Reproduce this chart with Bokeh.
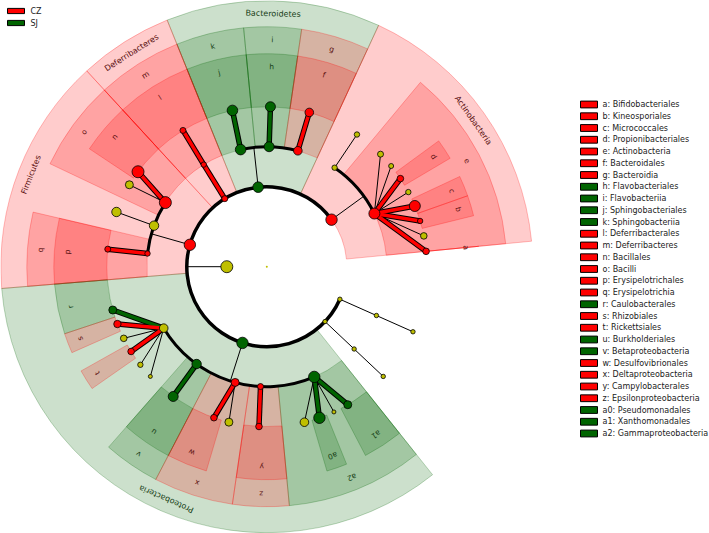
import math
from bokeh.plotting import figure
from bokeh.models import Range1d
from bokeh.core.properties import value
from bokeh.embed import file_html
from bokeh.resources import INLINE

W, H = 709, 533

# ---------------- data ----------------
group_names = ["CZ", "SJ"]
group_colors = ["#FF0000", "#006400"]
nonsig_color = "#BFBF00"
label_colors = ["#5a1010", "#143c14"]

legend_keys = ["a", "b", "c", "d", "e", "f", "g", "h", "i", "j", "k", "l", "m", "n", "o",
               "p", "q", "r", "s", "t", "u", "v", "w", "x", "y", "z", "a0", "a1", "a2"]
legend_taxa = ["Bifidobacteriales", "Kineosporiales", "Micrococcales", "Propionibacteriales",
               "Actinobacteria", "Bacteroidales", "Bacteroidia", "Flavobacteriales",
               "Flavobacteriia", "Sphingobacteriales", "Sphingobacteriia", "Deferribacterales",
               "Deferribacteres", "Bacillales", "Bacilli", "Erysipelotrichales",
               "Erysipelotrichia", "Caulobacterales", "Rhizobiales", "Rickettsiales",
               "Burkholderiales", "Betaproteobacteria", "Desulfovibrionales",
               "Deltaproteobacteria", "Campylobacterales", "Epsilonproteobacteria",
               "Pseudomonadales", "Xanthomonadales", "Gammaproteobacteria"]
legend_group = ["CZ", "CZ", "CZ", "CZ", "CZ", "CZ", "CZ", "SJ", "SJ", "SJ", "SJ", "CZ", "CZ",
                "CZ", "CZ", "CZ", "CZ", "SJ", "CZ", "CZ", "SJ", "SJ", "CZ", "CZ", "CZ", "CZ",
                "SJ", "SJ", "SJ"]

# cladogram nodes (level: 0 root, 1 kingdom, 2 phylum, 3 class, 4 order)
node_id = ["root", "Bacteria",
           "P_Actino", "P_Bactero", "P_Deferri", "P_Firmi", "P_Proteo", "P_6", "P_7",
           "C_Actino1", "e", "k", "i", "g", "m", "o", "C_Firmi2", "q",
           "C_Alpha", "v", "x", "z", "a2", "C_6", "C_7",
           "O_Actino1", "O_e1", "O_e2", "d", "O_e3", "c", "b", "O_e4", "a",
           "j", "h", "f", "l", "n", "O_o1", "O_Firmi2", "p",
           "r", "s", "O_alpha1", "t", "O_alpha2", "O_alpha3", "u", "w", "O_x1", "y",
           "O_g1", "a0", "O_g2", "a1", "O_6", "O_7"]
node_parent = [None, "root",
               "Bacteria", "Bacteria", "Bacteria", "Bacteria", "Bacteria", "Bacteria", "Bacteria",
               "P_Actino", "P_Actino", "P_Bactero", "P_Bactero", "P_Bactero", "P_Deferri",
               "P_Firmi", "P_Firmi", "P_Firmi",
               "P_Proteo", "P_Proteo", "P_Proteo", "P_Proteo", "P_Proteo", "P_6", "P_7",
               "C_Actino1", "e", "e", "e", "e", "e", "e", "e", "e",
               "k", "i", "g", "m", "o", "o", "C_Firmi2", "q",
               "C_Alpha", "C_Alpha", "C_Alpha", "C_Alpha", "C_Alpha", "C_Alpha", "v", "x", "x", "z",
               "a2", "a2", "a2", "a2", "C_6", "C_7"]
node_level = [0, 1,
              2, 2, 2, 2, 2, 2, 2,
              3, 3, 3, 3, 3, 3, 3, 3, 3,
              3, 3, 3, 3, 3, 3, 3,
              4, 4, 4, 4, 4, 4, 4, 4, 4,
              4, 4, 4, 4, 4, 4, 4, 4,
              4, 4, 4, 4, 4, 4, 4, 4, 4, 4,
              4, 4, 4, 4, 4, 4]
node_group = ["", "",
              "CZ", "SJ", "CZ", "CZ", "SJ", "", "",
              "", "CZ", "SJ", "SJ", "CZ", "CZ", "CZ", "", "CZ",
              "", "SJ", "CZ", "CZ", "SJ", "", "",
              "", "", "", "CZ", "", "CZ", "CZ", "", "CZ",
              "SJ", "SJ", "CZ", "CZ", "CZ", "", "", "CZ",
              "SJ", "CZ", "", "CZ", "", "", "SJ", "CZ", "", "CZ",
              "", "SJ", "", "SJ", "", ""]
node_label = ["", "",
              "Actinobacteria", "Bacteroidetes", "Deferribacteres", "Firmicutes",
              "Proteobacteria", "", "",
              "", "e", "k", "i", "g", "m", "o", "", "q",
              "", "v", "x", "z", "a2", "", "",
              "", "", "", "d", "", "c", "b", "", "a",
              "j", "h", "f", "l", "n", "", "", "p",
              "r", "s", "", "t", "", "", "u", "w", "", "y",
              "", "a0", "", "a1", "", ""]
# relative abundance -> marker radius
node_abund = [1.0, 6.0,
              5.7, 5.3, 3.0, 5.7, 5.7, 2.2, 2.2,
              2.7, 5.5, 5.3, 5.0, 4.3, 2.7, 6.0, 4.7, 2.7,
              4.3, 4.7, 4.0, 3.0, 5.7, 2.2, 2.2,
              2.7, 3.0, 2.5, 3.3, 2.7, 5.5, 2.7, 3.3, 3.3,
              5.3, 5.0, 4.3, 3.0, 6.0, 4.0, 4.7, 3.0,
              4.0, 3.7, 3.3, 3.3, 2.7, 2.0, 5.0, 3.3, 4.0, 3.3,
              4.3, 5.7, 2.0, 4.0, 2.2, 2.2]
# angular position in the circular tree (degrees)
node_angle = [0.0, 180.0,
              36.0, 96.2, 121.7, 164.1, 252.3, 316.7, 336.0,
              55.6, 26.3, 102.6, 88.9, 75.0, 121.7, 147.7, 160.0, 173.7,
              210.8, 234.2, 254.7, 267.0, 293.3, 316.7, 336.0,
              55.7, 44.7, 39.0, 33.4, 27.8, 22.3, 16.6, 11.1, 5.5,
              102.4, 88.7, 74.6, 121.6, 143.6, 149.2, 160.0, 173.7,
              195.7, 201.0, 206.6, 212.0, 217.8, 223.3, 234.2, 250.7, 256.3, 267.2,
              283.6, 289.2, 294.8, 300.4, 316.7, 336.0]

# ---------------- geometry ----------------
cx, cy = 266.3, H - 266.2
level_r = [0, 40, 80, 120, 160]
band_outer = {2: 266, 3: 240, 4: 213}
label_r = {2: 253, 3: 227, 4: 200}
gcol = dict(zip(group_names, group_colors))
lcol = dict(zip(group_names, label_colors))

idx = {n: i for i, n in enumerate(node_id)}
children = {n: [] for n in node_id}
for n, par in zip(node_id, node_parent):
    if par is not None:
        children[par].append(n)


def pt(r, deg):
    a = math.radians(deg)
    return cx + r * math.cos(a), cy + r * math.sin(a)


def leaves_of(n):
    if not children[n]:
        return [n]
    out = []
    for c in children[n]:
        out += leaves_of(c)
    return out


leaves = sorted([n for n in node_id if not children[n]], key=lambda n: node_angle[idx[n]])
lower, upper = {}, {}
for k, n in enumerate(leaves):
    a = node_angle[idx[n]]
    if k == 0:
        lower[n] = a
        upper[n] = a  # first leaf after the wrap-around gap: degenerate sector
    else:
        lower[n] = (node_angle[idx[leaves[k - 1]]] + a) / 2
        upper[n] = (a + node_angle[idx[leaves[k + 1]]]) / 2 if k < len(leaves) - 1 else a

p = figure(width=W, height=H, x_range=Range1d(0, W), y_range=Range1d(0, H),
           output_backend="svg", toolbar_location=None, min_border=0,
           x_axis_location=None, y_axis_location=None)
p.grid.visible = False
p.outline_line_color = None
p.background_fill_color = "white"

# ---- clade highlight sectors ----
lab_x, lab_y, lab_t, lab_a, lab_c, lab_s = [], [], [], [], [], []
for lvl in (2, 3, 4):
    for n in node_id:
        i = idx[n]
        if node_level[i] != lvl or not node_group[i]:
            continue
        lv = leaves_of(n)
        lo = min(lower[x] for x in lv)
        hi = max(upper[x] for x in lv)
        col = gcol[node_group[i]]
        if hi - lo > 0.05:
            p.annular_wedge(x=[cx], y=[cy], inner_radius=level_r[lvl], outer_radius=band_outer[lvl],
                            start_angle=[math.radians(lo)], end_angle=[math.radians(hi)],
                            direction="anticlock", fill_color=col, fill_alpha=0.2,
                            line_color=col, line_alpha=0.25, line_width=1)
        else:
            x0, y0 = pt(level_r[lvl], lo)
            x1, y1 = pt(band_outer[lvl], lo)
            p.line([x0, x1], [y0, y1], line_color=col, line_alpha=0.5, line_width=1)
        if node_label[i]:
            mid = (lo + hi) / 2
            lx, ly = pt(label_r[lvl], mid)
            lab_x.append(lx); lab_y.append(ly); lab_t.append(node_label[i])
            lab_a.append(math.radians(mid - 90)); lab_c.append(lcol[node_group[i]])
            lab_s.append("8px" if lvl == 2 else "7.5px")

for fs in ("8px", "7.5px"):
    sel = [k for k in range(len(lab_t)) if lab_s[k] == fs]
    p.text(x=[lab_x[k] for k in sel], y=[lab_y[k] for k in sel], text=[lab_t[k] for k in sel],
           angle=[lab_a[k] for k in sel], text_color=[lab_c[k] for k in sel],
           text_font=value("DejaVu Sans"), text_font_size=fs,
           text_align="center", text_baseline="middle")

# ---- tree branches ----
thin_x, thin_y = [], []
thick = []
for n in node_id:
    i = idx[n]
    ch = children[n]
    if not ch or node_level[i] == 0:
        continue
    lp = node_level[i]
    ap = node_angle[i]
    if lp <= 2 and len(ch) > 1:
        rc = level_r[lp + 1]
        x0, y0 = pt(level_r[lp], ap)
        x1, y1 = pt(rc, ap)
        thin_x.append([x0, x1]); thin_y.append([y0, y1])
        angs = [node_angle[idx[c]] for c in ch]
        p.arc(x=[cx], y=[cy], radius=rc, start_angle=math.radians(min(angs)),
              end_angle=math.radians(max(angs)), direction="anticlock",
              line_color="black", line_width=3.5 if lp == 1 else 3)
    else:
        for c in ch:
            j = idx[c]
            x0, y0 = pt(level_r[lp], ap)
            x1, y1 = pt(level_r[node_level[j]], node_angle[j])
            if node_group[j]:
                thick.append(([x0, x1], [y0, y1], gcol[node_group[j]]))
            else:
                thin_x.append([x0, x1]); thin_y.append([y0, y1])

p.multi_line(xs=thin_x, ys=thin_y, line_color="black", line_width=1)
for xs, ys, col in thick:
    p.line(xs, ys, line_color="black", line_width=5.5)
for xs, ys, col in thick:
    p.line(xs, ys, line_color=col, line_width=3.5)

# ---- nodes ----
nx, ny, nr, nc = [], [], [], []
for n in node_id:
    i = idx[n]
    x, y = pt(level_r[node_level[i]], node_angle[i])
    nx.append(x); ny.append(y); nr.append(node_abund[i])
    nc.append(gcol[node_group[i]] if node_group[i] else nonsig_color)
p.circle(x=nx[1:], y=ny[1:], radius=nr[1:], fill_color=nc[1:], line_color="black", line_width=0.8)
p.circle(x=nx[:1], y=ny[:1], radius=nr[:1], fill_color=nonsig_color, line_color=None)

# ---- group legend (top-left) ----
for k, g in enumerate(group_names):
    yc = H - (10.5 + 12 * k)
    p.quad(left=[7], right=[24], bottom=[yc - 2.6], top=[yc + 2.6], fill_color=gcol[g],
           line_color="black", line_width=1)
    p.text(x=[30], y=[yc], text=[g], text_font=value("DejaVu Sans"), text_font_size="8px",
           text_color="#222222", text_align="left", text_baseline="middle")

# ---- biomarker legend (right) ----
for k, (key, taxon, g) in enumerate(zip(legend_keys, legend_taxa, legend_group)):
    yc = H - (104 + 11.75 * k)
    p.quad(left=[580], right=[597], bottom=[yc - 3.4], top=[yc + 3.4], fill_color=gcol[g],
           line_color="black", line_width=1)
    p.text(x=[602], y=[yc], text=[f"{key}: {taxon}"], text_font=value("DejaVu Sans"),
           text_font_size="8px", text_color="#222222", text_align="left",
           text_baseline="middle")

open("out.html", "w").write(file_html(p, INLINE))
